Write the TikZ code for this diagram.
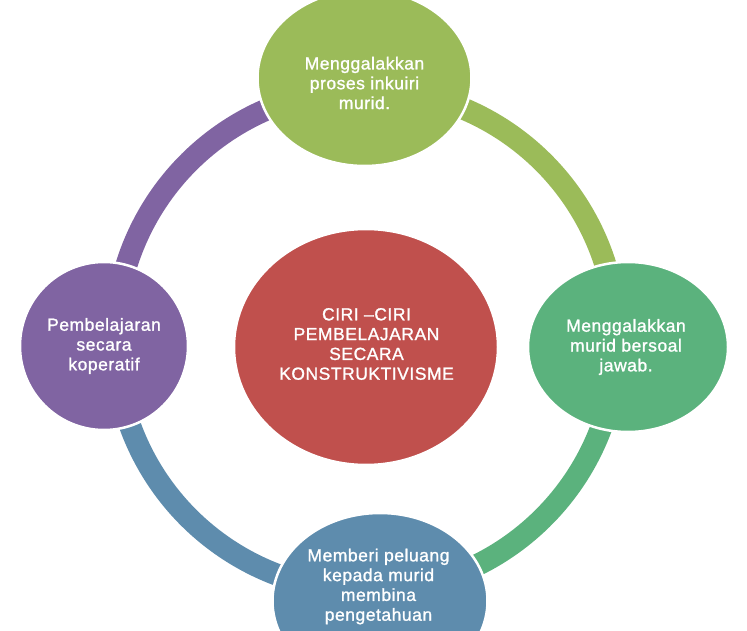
\documentclass[tikz,border=0pt]{standalone}
\usepackage{fontspec}
\setmainfont{Liberation Sans}[LetterSpace=3,FakeBold=1.2]
\usetikzlibrary{shapes.geometric,calc}
\definecolor{cOlive}{HTML}{9BBB59}
\definecolor{cGreen}{HTML}{5BB27D}
\definecolor{cBlue}{HTML}{5E8CAD}
\definecolor{cPurple}{HTML}{8064A2}
\definecolor{cRed}{HTML}{C0504D}
\begin{document}
\begin{tikzpicture}[x=1pt,y=1pt,
  blob/.style={ellipse, draw=white, line width=2.5pt, inner sep=0pt},
  lbl/.style={text=white, align=center, inner sep=0pt, font=\fontsize{17.5}{19.8}\selectfont},
  band/.style={line width=22pt}]
\useasboundingbox (0,0) rectangle (747,630);
\clip (0,0) rectangle (747,630);
\coordinate (ringc) at (366,290);
% ring segments
\draw[band,cOlive]  ($(ringc)+(90:251)$)   arc[start angle=90,   end angle=-1.5,   radius=251pt];
\draw[band,cGreen]  ($(ringc)+(-1.5:251)$) arc[start angle=-1.5, end angle=-87,    radius=251pt];
\draw[band,cBlue]   ($(ringc)+(-87:251)$)  arc[start angle=-87,  end angle=-178.7, radius=251pt];
\draw[band,cPurple] ($(ringc)+(181.3:251)$) arc[start angle=181.3, end angle=90,   radius=251pt];
% nodes
\node[blob, fill=cRed,    minimum width=264pt, minimum height=236pt] (core)  at (366,283) {};
\node[blob, fill=cOlive,  minimum width=214pt, minimum height=176pt] (top)   at (364.5,552) {};
\node[blob, fill=cGreen,  minimum width=200pt, minimum height=170pt] (right) at (628,283) {};
\node[blob, fill=cBlue,   minimum width=215pt, minimum height=176pt] (bottom) at (380,29) {};
\node[blob, fill=cPurple, minimum width=168pt, minimum height=168pt] (left)  at (104,284) {};
% labels
\node[lbl] (coret)   at (366.5,286) {CIRI –CIRI\\PEMBELAJARAN\\SECARA\\KONSTRUKTIVISME};
\node[lbl] (topt)    at (364.5,547) {Menggalakkan\\proses inkuiri\\murid.};
\node[lbl] (rightt)  at (626,283) {Menggalakkan\\murid bersoal\\jawab.};
\node[lbl] (bottomt) at (378.5,43.5) {Memberi peluang\\kepada murid\\membina\\pengetahuan};
\node[lbl] (leftt)   at (104,284) {Pembelajaran\\secara\\koperatif};
\end{tikzpicture}
\end{document}
